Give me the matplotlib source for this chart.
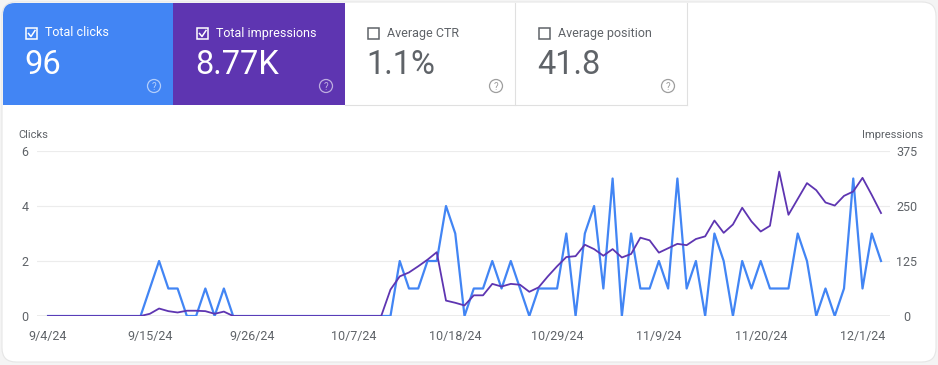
import matplotlib.pyplot as plt
from matplotlib.patches import FancyBboxPatch, Rectangle, Circle
import numpy as np
import pandas as pd

plt.rcParams['font.family'] = ['Roboto', 'DejaVu Sans']

# daily values, 9/4/24 .. 12/3/24
dates = pd.date_range('2024-09-04', periods=91, freq='D')
clicks = [0] * 11 + [1, 2, 1, 1, 0, 0, 1, 0, 1] + [0] * 18 + [
    2, 1, 1, 2, 2, 4, 3, 0, 1, 1, 2, 1, 2, 1, 0, 1, 1, 1, 3, 0, 3, 4, 1, 5,
    0, 3, 1, 1, 2, 1, 5, 1, 2, 0, 3, 2, 0, 2, 1, 2, 1, 1, 1, 3, 2, 0, 1, 0,
    1, 5, 1, 3, 2]
impressions = [0] * 11 + [5, 17, 11, 8, 12, 12, 11, 5, 10] + [0] * 17 + [
    60, 90, 99, 113, 128, 145, 35, 30, 24, 47, 47, 73, 67, 73, 71, 55, 65,
    90, 113, 134, 136, 162, 152, 137, 152,
    133, 141, 178, 172, 144, 154, 164, 161, 175, 181, 217, 189, 208, 246,
    215, 192, 205, 328, 230, 266, 302, 286, 258, 251, 273, 283, 314, 275, 234]

card_titles = ['Total clicks', 'Total impressions', 'Average CTR', 'Average position']
card_values = ['96', '8.77K', '1.1%', '41.8']
clicks_ticks = [0, 2, 4, 6]
impr_ticks = [0, 125, 250, 375]

BLUE = '#4285f4'
PURPLE = '#5e35b1'
GREY_TXT = '#5f6368'

fig = plt.figure(figsize=(9.38, 3.65), dpi=100)
fig.patch.set_facecolor('#f4f4f4')

# background layer in pixel coords
bg = fig.add_axes([0, 0, 1, 1])
bg.set_xlim(0, 938)
bg.set_ylim(365, 0)
bg.axis('off')

bg.add_patch(FancyBboxPatch((2, 2), 934, 360, boxstyle='round,pad=0,rounding_size=14',
                            fc='white', ec='#e6e6e6', lw=0.8))

# cards
bg.add_patch(FancyBboxPatch((3, 3), 170, 102, boxstyle='round,pad=0,rounding_size=12',
                            fc=BLUE, ec='none'))
bg.add_patch(Rectangle((20, 3), 153, 102, fc=BLUE, ec='none'))
bg.add_patch(Rectangle((3, 20), 170, 85, fc=BLUE, ec='none'))
bg.add_patch(Rectangle((173, 3), 172, 102, fc=PURPLE, ec='none'))
bg.plot([515, 515], [3, 105], color='#e0e0e0', lw=0.8)
bg.plot([687, 687], [3, 105], color='#e0e0e0', lw=0.8)
bg.plot([345, 687], [105, 105], color='#e0e0e0', lw=0.8)

card_x = [26, 197, 368, 539]
help_x = [154, 326, 496, 668]
for k in range(4):
    x0 = card_x[k]
    selected = k < 2
    fg = 'white' if selected else GREY_TXT
    bg.add_patch(Rectangle((x0, 28), 11, 11, fc='none', ec=fg, lw=1.1))
    if selected:
        bg.plot([x0 + 2.5, x0 + 5, x0 + 9], [33.5, 36.5, 30.5], color='white', lw=1.1)
    bg.text(x0 + 19, 33, card_titles[k], color=fg, fontsize=9, va='center', ha='left')
    bg.text(x0 - 2, 65, card_values[k], color=fg, fontsize=23.5, va='center', ha='left')
    hc = (1, 1, 1, 0.6) if selected else '#9e9e9e'
    bg.add_patch(Circle((help_x[k], 86), 6.5, fc='none', ec=hc, lw=0.9))
    bg.text(help_x[k], 86.5, '?', color=hc, fontsize=7, ha='center', va='center')

bg.text(18, 135, 'Clicks', color=GREY_TXT, fontsize=8, va='center', ha='left')
bg.text(923, 135, 'Impressions', color=GREY_TXT, fontsize=8, va='center', ha='right')

# chart
x = np.arange(len(dates))
ax = fig.add_axes([37 / 938, (365 - 316) / 365, (890 - 37) / 938, (316 - 151) / 365])
ax.patch.set_alpha(0)
ax.set_xlim(-1.19, 90.97)
ax.set_ylim(0, 6)
ax.set_yticks(clicks_ticks)
ax.grid(axis='y', color='#ececec', lw=0.8)
ax.axhline(0, color='#9e9e9e', lw=1, zorder=1)
for s in ax.spines.values():
    s.set_visible(False)
ax.tick_params(axis='y', length=0, pad=6, labelsize=9, labelcolor=GREY_TXT)

tick_idx = list(range(0, 91, 11))
ax.set_xticks(tick_idx)
ax.set_xticklabels([f"{dates[i].month}/{dates[i].day}/{dates[i].strftime('%y')}" for i in tick_idx])
ax.tick_params(axis='x', length=0, pad=10, labelsize=9, labelcolor=GREY_TXT)

ax.plot(x, clicks, color=BLUE, lw=1.6, zorder=3)

ax2 = ax.twinx()
ax2.set_ylim(0, 375)
ax2.set_yticks(impr_ticks)
for s in ax2.spines.values():
    s.set_visible(False)
ax2.tick_params(axis='y', length=0, pad=12, labelsize=9, labelcolor=GREY_TXT)
for lab in ax2.get_yticklabels():
    lab.set_horizontalalignment('center')
ax2.plot(x, impressions, color=PURPLE, lw=1.3, zorder=4)

fig.savefig('out.png', dpi=100, facecolor=fig.get_facecolor())
